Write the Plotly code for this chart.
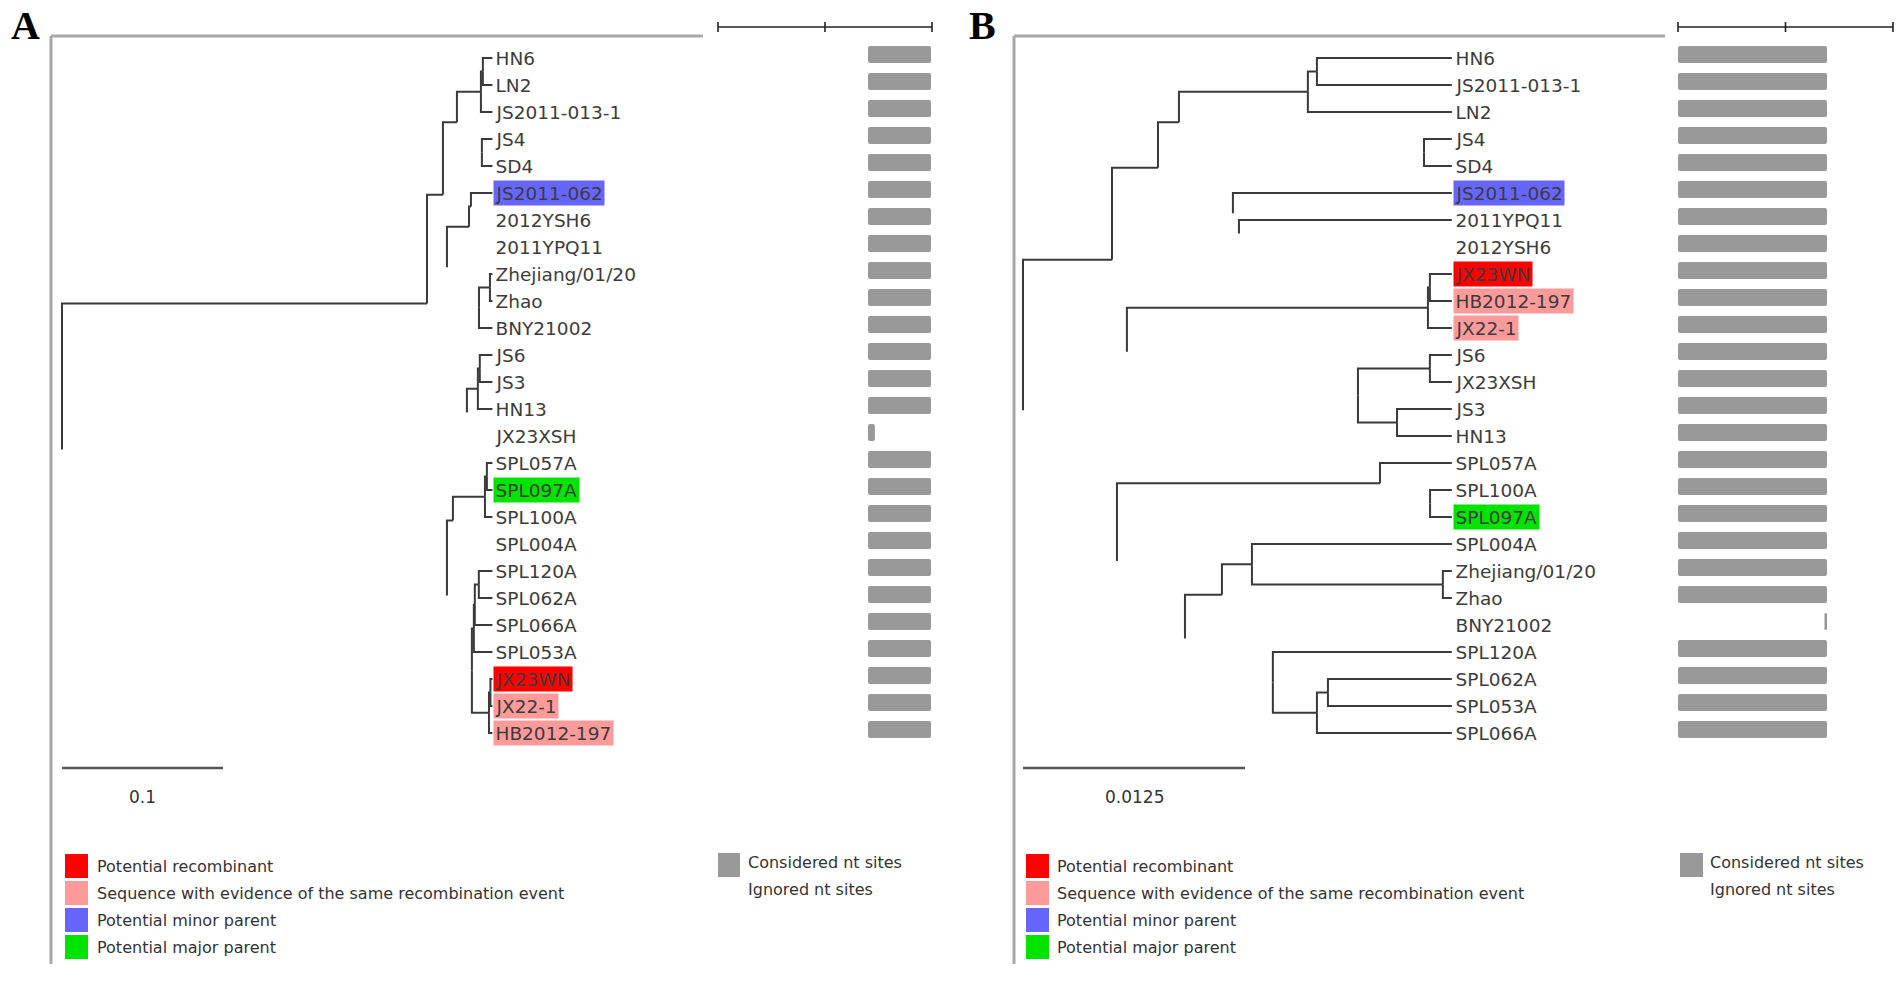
import plotly.graph_objects as go

W, H = 1902, 981

# ======================= DATA =======================
# Panel A (tree 1) leaf order, top to bottom
A_leaves = ["HN6", "LN2", "JS2011-013-1", "JS4", "SD4", "JS2011-062", "2012YSH6",
            "2011YPQ11", "Zhejiang/01/20", "Zhao", "BNY21002", "JS6", "JS3", "HN13",
            "JX23XSH", "SPL057A", "SPL097A", "SPL100A", "SPL004A", "SPL120A", "SPL062A",
            "SPL066A", "SPL053A", "JX23WN", "JX22-1", "HB2012-197"]

# Panel A edges: child, parent, branch length (subst./site; None = leaf, aligned), drawn?
A_child = ["N1", "S", "N2", "J467", "N3", "N7", "N4", "N6", "N5", "JS2011-013-1",
           "HN6", "LN2", "JS4", "SD4", "N8", "Z2", "N9", "2011YPQ11", "JS2011-062",
           "2012YSH6", "Z1", "BNY21002", "Zhejiang/01/20", "Zhao", "J1", "JX23XSH",
           "J2", "HN13", "JS6", "JS3", "S1", "T3", "S2", "SPL004A", "S3", "SPL100A",
           "SPL057A", "SPL097A", "T2p", "W", "T2pp", "SPL053A", "T1", "SPL066A",
           "SPL120A", "SPL062A", "W1", "HB2012-197", "JX23WN", "JX22-1"]
A_parent = ["root", "root", "N1", "N1", "N2", "N2", "N3", "N3", "N4", "N4",
            "N5", "N5", "N6", "N6", "N7", "N7", "N8", "N8", "N9",
            "N9", "Z2", "Z2", "Z1", "Z1", "J467", "J467",
            "J1", "J1", "J2", "J2", "S", "S", "S1", "S1", "S2", "S2",
            "S3", "S3", "T3", "T3", "T2p", "T2p", "T2pp", "T2pp",
            "T1", "T1", "W", "W", "W1", "W1"]
A_length = [0.2267, 0.2391, 0.0099, 0.0248, 0.0087, 0.0025, 0.0149, 0.0155, 0.0012, None,
            None, None, None, None, 0.0137, 0.0199, 0.0012, None, None,
            None, 0.0068, None, None, None, 0.0068, None,
            0.0012, None, None, None, 0.0037, 0.0155, 0.0199, None, 0.0012, None,
            None, None, 0.0012, 0.0106, 0.0006, None, 0.0025, None,
            None, None, 0.0009, None, None, None]
A_shown = [1, 0, 1, 0, 1, 0, 1, 0, 1, 1,
           1, 1, 1, 1, 1, 0, 1, 0, 1,
           0, 1, 1, 1, 1, 1, 0,
           1, 1, 1, 1, 1, 0, 1, 0, 1, 1,
           1, 1, 1, 1, 1, 1, 1, 1,
           1, 1, 1, 1, 1, 1]

# Panel B (tree 2) leaf order, top to bottom
B_leaves = ["HN6", "JS2011-013-1", "LN2", "JS4", "SD4", "JS2011-062", "2011YPQ11",
            "2012YSH6", "JX23WN", "HB2012-197", "JX22-1", "JS6", "JX23XSH", "JS3",
            "HN13", "SPL057A", "SPL100A", "SPL097A", "SPL004A", "Zhejiang/01/20",
            "Zhao", "BNY21002", "SPL120A", "SPL062A", "SPL053A", "SPL066A"]

B_child = ["B1", "Q", "B2", "K", "B3", "P1", "B4", "J4", "B5", "LN2", "HN6",
           "JS2011-013-1", "JS4", "SD4", "JS2011-062", "P2", "2011YPQ11", "2012YSH6",
           "K1", "G", "K2", "JX22-1", "JX23WN", "HB2012-197", "G1", "G2", "JS6",
           "JX23XSH", "JS3", "HN13", "Q1", "U", "SPL057A", "Q2", "SPL100A", "SPL097A",
           "U1", "V", "U2", "BNY21002", "SPL004A", "U3", "Zhejiang/01/20", "Zhao",
           "SPL120A", "V1", "V2", "SPL066A", "SPL062A", "SPL053A"]
B_parent = ["root", "root", "B1", "B1", "B2", "B2", "B3", "B3", "B4", "B4", "B5",
            "B5", "J4", "J4", "P1", "P1", "P2", "P2",
            "K", "K", "K1", "K1", "K2", "K2", "G", "G", "G1",
            "G1", "G2", "G2", "Q", "Q", "Q1", "Q1", "Q2", "Q2",
            "U", "U", "U1", "U1", "U2", "U2", "U3", "U3",
            "V", "V", "V1", "V1", "V2", "V2"]
B_length = [0.00501, 0.00529, 0.00259, 0.00084, 0.00118, 0.00422, 0.00726, 0.01380,
            0.00051, None, None, None, None, None, None, 0.00034, None, None,
            0.01695, 0.01301, 0.00011, None, None, None, 0.00405, 0.00220, None,
            None, None, None, 0.01481, 0.00383, None, 0.00282, None, None,
            0.00208, 0.00495, 0.00169, None, None, 0.01075, None, None,
            None, 0.00248, 0.00062, None, None, None]
B_shown = [1, 0, 1, 0, 1, 0, 1, 0, 1, 1, 1,
           1, 1, 1, 1, 0, 1, 0,
           1, 0, 1, 1, 1, 1, 1, 1, 1,
           1, 1, 1, 1, 0, 1, 0, 1, 1,
           1, 0, 1, 0, 1, 1, 1, 1,
           1, 1, 1, 1, 1, 1]

# considered nucleotide-site fraction per leaf row (start, end)
A_site_start = [0, 0, 0, 0, 0, 0, 0, 0, 0, 0, 0, 0, 0, 0, 0, 0, 0, 0, 0, 0, 0, 0, 0, 0, 0, 0]
A_site_end = [1, 1, 1, 1, 1, 1, 1, 1, 1, 1, 1, 1, 1, 1, 0.11, 1, 1, 1, 1, 1, 1, 1, 1, 1, 1, 1]
B_site_start = [0, 0, 0, 0, 0, 0, 0, 0, 0, 0, 0, 0, 0, 0, 0, 0, 0, 0, 0, 0, 0, 0.983, 0, 0, 0, 0]
B_site_end = [1, 1, 1, 1, 1, 1, 1, 1, 1, 1, 1, 1, 1, 1, 1, 1, 1, 1, 1, 1, 1, 1, 1, 1, 1, 1]

A_scale_value, A_scale_text = 0.1, "0.1"
B_scale_value, B_scale_text = 0.0125, "0.0125"

roles = {"JX23WN": "rec", "JX22-1": "evi", "HB2012-197": "evi",
         "JS2011-062": "minor", "SPL097A": "major"}
role_order = ["rec", "evi", "minor", "major"]
role_colors = ["#ff0000", "#ff9a9a", "#6666ff", "#00e400"]
legend_labels = ["Potential recombinant",
                 "Sequence with evidence of the same recombination event",
                 "Potential minor parent", "Potential major parent"]
site_labels = ["Considered nt sites", "Ignored nt sites"]
site_colors = ["#999999", "#ffffff"]

# ======================= LAYOUT GEOMETRY (pixels) =======================
ROW0, ROWH = 58.0, 27.0
A_ROOT, A_PPU, A_PAD = 62.0, 1610.0, 2.0
B_ROOT, B_PPU, B_PAD = 1023.0, 17760.0, 9.0
A_BAR = (868.0, 931.0)
B_BAR = (1678.0, 1827.0)
BAR_SHIFT = -3.5
LINE_C = "#3a3a3a"
TEXT_C = "#3c3c3c"
FRAME_C = "#a8a8a8"
LABEL_FONT = dict(family="DejaVu Sans", size=18.5, color=TEXT_C)
LEG_FONT = dict(family="DejaVu Sans", size=16, color="#333333")


def axis_range(origin_px, ppu, total):
    return [-origin_px / ppu, (total - origin_px) / ppu]


def tree_layout(leaves, child, parent, length, shown, pad_units):
    kids = {}
    for c, p in zip(child, parent):
        kids.setdefault(p, []).append(c)
    info = {c: (p, l) for c, p, l in zip(child, parent, length)}
    depth = {"root": 0.0}

    def get_depth(n):
        if n in depth:
            return depth[n]
        p, l = info[n]
        depth[n] = get_depth(p) + l
        return depth[n]

    for c, l in zip(child, length):
        if l is not None:
            get_depth(c)
    tip = max(depth.values()) + pad_units
    row = {n: i for i, n in enumerate(leaves)}

    def ypos(n):
        if n in row:
            return float(row[n])
        ys = [ypos(k) for k in kids[n]]
        return (min(ys) + max(ys)) / 2.0

    xs, ys = [], []
    for c, p, l, s in zip(child, parent, length, shown):
        if not s:
            continue
        px = depth[p]
        cx = depth[c] if l is not None else tip
        py, cy = ypos(p), ypos(c)
        xs += [px, px, cx, None]
        ys += [py, cy, cy, None]
    return xs, ys, tip


fig = go.Figure()

A_xs, A_ys, A_tip = tree_layout(A_leaves, A_child, A_parent, A_length, A_shown, A_PAD / A_PPU)
B_xs, B_ys, B_tip = tree_layout(B_leaves, B_child, B_parent, B_length, B_shown, B_PAD / B_PPU)

fig.add_trace(go.Scatter(x=A_xs, y=A_ys, mode="lines", xaxis="x", yaxis="y",
                         line=dict(color=LINE_C, width=2), hoverinfo="skip", showlegend=False))
fig.add_trace(go.Scatter(x=B_xs, y=B_ys, mode="lines", xaxis="x2", yaxis="y",
                         line=dict(color=LINE_C, width=2), hoverinfo="skip", showlegend=False))

# site bars
for leaves, st, en, xa in [(A_leaves, A_site_start, A_site_end, "x3"),
                           (B_leaves, B_site_start, B_site_end, "x4")]:
    fig.add_trace(go.Bar(orientation="h", y=list(range(len(leaves))),
                         x=[e - s for s, e in zip(st, en)], base=st, width=0.63,
                         marker=dict(color="#999999", line=dict(width=0)),
                         xaxis=xa, yaxis="y2", hoverinfo="skip", showlegend=False))

annotations = []
shapes = []

# leaf labels
for leaves, tip, xr in [(A_leaves, A_tip, "x"), (B_leaves, B_tip, "x2")]:
    for i, name in enumerate(leaves):
        r = roles.get(name)
        bg = role_colors[role_order.index(r)] if r else "rgba(0,0,0,0)"
        annotations.append(dict(x=tip, y=i, xref=xr, yref="y", text=name, showarrow=False,
                                xanchor="left", yanchor="middle", xshift=1,
                                font=LABEL_FONT, bgcolor=bg, borderpad=1.5))

# frames
for x0, x1 in [(51, 703), (1014, 1665)]:
    shapes.append(dict(type="line", xref="x5", yref="y5", x0=x0, x1=x1, y0=36, y1=36,
                       line=dict(color=FRAME_C, width=3)))
    shapes.append(dict(type="line", xref="x5", yref="y5", x0=x0, x1=x0, y0=36, y1=964,
                       line=dict(color=FRAME_C, width=3)))

# top alignment rulers
for x0, x1 in [(718, 932), (1678, 1893)]:
    shapes.append(dict(type="line", xref="x5", yref="y5", x0=x0, x1=x1, y0=27, y1=27,
                       line=dict(color="#222222", width=1.6)))
    for xt in (x0, (x0 + x1) / 2, x1):
        shapes.append(dict(type="line", xref="x5", yref="y5", x0=xt, x1=xt, y0=22, y1=32,
                           line=dict(color="#222222", width=1.6)))

# distance scale bars
for xr, val, txt in [("x", A_scale_value, A_scale_text), ("x2", B_scale_value, B_scale_text)]:
    shapes.append(dict(type="line", xref=xr, yref="y5", x0=0, x1=val, y0=768, y1=768,
                       line=dict(color="#555555", width=2.5)))
    annotations.append(dict(x=val / 2, y=797, xref=xr, yref="y5", text=txt, showarrow=False,
                            xanchor="center", yanchor="middle",
                            font=dict(family="DejaVu Sans", size=17, color="#333333")))

# legends
for sx0, sx1, tx in [(65, 88, 95), (1026, 1049, 1055)]:
    for k, (lab, col) in enumerate(zip(legend_labels, role_colors)):
        yc = 866 + 27 * k
        shapes.append(dict(type="rect", xref="x5", yref="y5", x0=sx0, x1=sx1,
                           y0=yc - 12, y1=yc + 12, fillcolor=col, line=dict(width=0)))
        annotations.append(dict(x=tx, y=yc, xref="x5", yref="y5", text=lab, showarrow=False,
                                xanchor="left", yanchor="middle", font=LEG_FONT))
for sx0, sx1, tx in [(718, 740, 746), (1680, 1703, 1708)]:
    for k, (lab, col) in enumerate(zip(site_labels, site_colors)):
        yc = 865 + 27 * k
        shapes.append(dict(type="rect", xref="x5", yref="y5", x0=sx0, x1=sx1,
                           y0=yc - 12, y1=yc + 12, fillcolor=col, line=dict(width=0)))
        annotations.append(dict(x=tx, y=yc - 3, xref="x5", yref="y5", text=lab, showarrow=False,
                                xanchor="left", yanchor="middle", font=LEG_FONT))

# panel letters
for txt, x in [("A", 9), ("B", 967)]:
    annotations.append(dict(x=x, y=25, xref="x5", yref="y5", text="<b>" + txt + "</b>",
                            showarrow=False, xanchor="left", yanchor="middle",
                            font=dict(family="Liberation Serif", size=40, color="#000000")))

hidden = dict(visible=False, showgrid=False, zeroline=False, fixedrange=True)
row_range = [(H - ROW0) / ROWH, -ROW0 / ROWH]
bar_range = [(H - ROW0 - BAR_SHIFT) / ROWH, -(ROW0 + BAR_SHIFT) / ROWH]

fig.update_layout(
    width=W, height=H, autosize=False,
    margin=dict(l=0, r=0, t=0, b=0, pad=0),
    paper_bgcolor="white", plot_bgcolor="white",
    showlegend=False, barcornerradius=2,
    xaxis=dict(range=axis_range(A_ROOT, A_PPU, W), domain=[0, 1], anchor="y", **hidden),
    xaxis2=dict(range=axis_range(B_ROOT, B_PPU, W), domain=[0, 1], anchor="y", overlaying="x", **hidden),
    xaxis3=dict(range=axis_range(A_BAR[0], A_BAR[1] - A_BAR[0], W), domain=[0, 1], anchor="y2",
                overlaying="x", **hidden),
    xaxis4=dict(range=axis_range(B_BAR[0], B_BAR[1] - B_BAR[0], W), domain=[0, 1], anchor="y2",
                overlaying="x", **hidden),
    xaxis5=dict(range=[0, W], domain=[0, 1], anchor="y5", overlaying="x", **hidden),
    yaxis=dict(range=row_range, domain=[0, 1], anchor="x", **hidden),
    yaxis2=dict(range=bar_range, domain=[0, 1], anchor="x3", overlaying="y", **hidden),
    yaxis5=dict(range=[H, 0], domain=[0, 1], anchor="x5", overlaying="y", **hidden),
    shapes=shapes, annotations=annotations,
)

fig.write_html("out.html", config={"displayModeBar": False, "staticPlot": True},
               post_script="document.body.style.margin='0';document.body.style.overflow='hidden';")
